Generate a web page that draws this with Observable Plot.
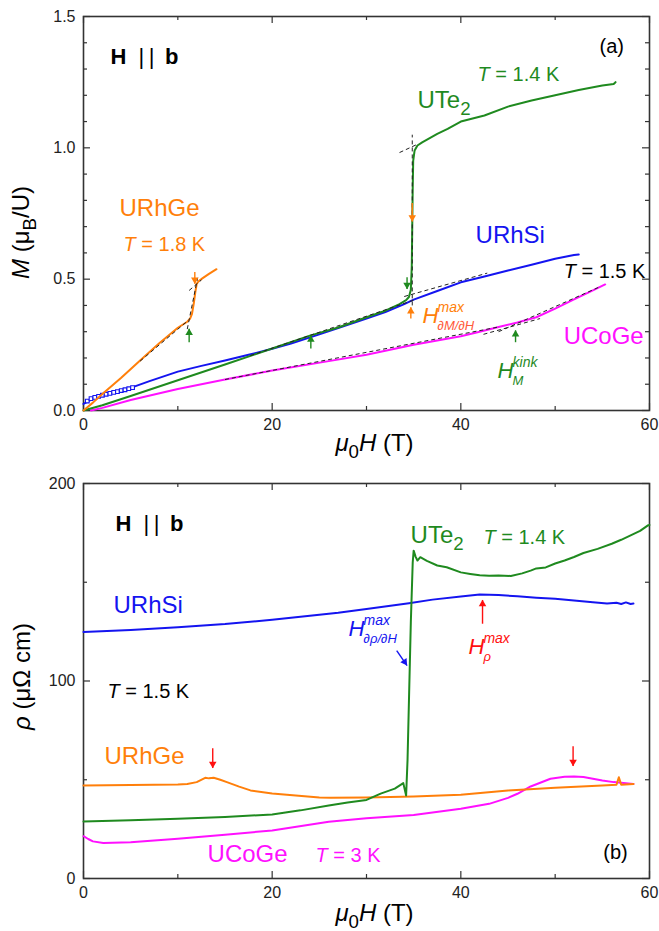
<!DOCTYPE html>
<html><head><meta charset="utf-8">
<script src="https://cdn.jsdelivr.net/npm/d3@7"></script>
<script src="https://cdn.jsdelivr.net/npm/@observablehq/plot@0.6"></script>
<style>
body{margin:0;background:#fff;}
#chart{width:659px;}
#chart svg{display:block;}
</style>
</head><body><div id="chart"></div>
<script>
// ---------- Data ----------
// Panel (a): magnetization M (μB/U) vs μ0H (T)
const mURhGe = [[0,0],[1,0.03],[2,0.063],[4,0.125],[6,0.19],[8,0.255],[10,0.315],[11,0.338],[11.3,0.35],[11.5,0.368],[11.7,0.41],[11.85,0.45],[12.0,0.482],[12.2,0.492],[12.6,0.503],[13.3,0.52],[14.1,0.538]];
const mURhSi = [[0,0.025],[0.5,0.035],[1,0.045],[2,0.058],[3,0.068],[4,0.077],[5,0.086],[7,0.112],[10,0.148],[12.5,0.17],[15,0.19],[17.5,0.212],[20,0.235],[22,0.255],[25,0.29],[27,0.314],[30,0.35],[32,0.375],[34,0.405],[35,0.422],[37.5,0.455],[40,0.488],[42.5,0.51],[45,0.533],[47.5,0.555],[50,0.578],[52,0.592],[52.5,0.594]];
const sqH = [0.4,0.8,1.2,1.6,2.0,2.4,2.8,3.2,3.6,4.0,4.4,4.8,5.2];
const sqM = [0.036,0.045,0.05,0.054,0.058,0.062,0.065,0.069,0.072,0.076,0.079,0.083,0.087];
const mUTe2 = [[0,0],[2,0.02],[5,0.055],[10,0.115],[15,0.175],[20,0.236],[24,0.285],[27,0.316],[30,0.355],[32,0.38],[33.5,0.405],[34.2,0.42],[34.5,0.432],[34.7,0.46],[34.8,0.55],[34.85,0.7],[34.9,0.85],[34.95,0.95],[35.1,0.99],[35.4,1.009],[35.9,1.021],[37.5,1.053],[38.6,1.072],[40,1.1],[42.5,1.123],[45,1.157],[47.5,1.18],[50,1.2],[52.5,1.22],[55,1.237],[56.2,1.243],[56.4,1.25]];
const mUCoGe = [[0.8,0],[2,0.01],[5,0.04],[10,0.082],[15,0.118],[20,0.152],[26,0.188],[30,0.212],[35,0.25],[40,0.283],[42,0.3],[44,0.318],[46,0.335],[48,0.355],[50,0.388],[52,0.423],[54,0.457],[55.3,0.48]];
// dashed linear fits: [H1, M1, H2, M2]
const fitsA = [[6.0,0.188,11.0,0.340],[11.0,0.31,12.1,0.505],[11.2,0.457,12.5,0.497],[34.85,0.40,34.85,1.05],[33.5,0.982,35.3,1.012],[17.7,0.209,35.0,0.42],[34.0,0.434,42.8,0.523],[15,0.118,44,0.318],[42.4,0.29,48.4,0.35],[44,0.30,54.8,0.472]];
// arrows: [H, from, to]
const arrowsGreenA = [[11.2,0.26,0.311],[24.1,0.236,0.285],[45.8,0.26,0.305],[34.3,0.507,0.463]];
const arrowsOrangeA = [[11.8,0.527,0.483],[34.85,0.79,0.72],[34.7,0.35,0.393]];

// Panel (b): resistivity ρ (μΩ cm) vs μ0H (T)
const rURhSi = [[0,124.8],[5,125.8],[10,127.2],[15,128.8],[20,131],[24,133],[27,134.5],[30,136.5],[34.5,139.4],[37,141.2],[40,142.8],[42,143.8],[44,143.5],[46,142.9],[48,142.2],[50,141.6],[52,140.8],[54,139.9],[55.5,139.3],[56.5,139.6],[57,139],[57.5,139.8],[58,139],[58.3,139.2]];
const rUTe2 = [[0,28.9],[5,29.5],[10,30.2],[15,31.2],[20,32.4],[23,34.5],[26,37],[28,38.5],[30,39.8],[31.5,43],[33,45.5],[33.9,48.3],[34.2,42],[34.35,60],[34.5,90],[34.7,130],[34.9,160],[35.0,166],[35.2,163],[35.4,161],[35.7,162.7],[36.4,160.8],[37.5,158.5],[38.5,157.6],[40,155],[41,154.2],[42,153.5],[43,153.3],[44,153.4],[45.3,153.2],[46.5,154.5],[47.4,155.9],[48,157],[49,157.5],[50,159.5],[51,161],[52,162.8],[53,164.8],[54.5,166.9],[56,169.5],[57,171.5],[58,173.7],[59,176],[59.8,178.7],[60,179]];
const rURhGe = [[0,47.1],[5,47.3],[10,47.6],[11,47.8],[12,48.8],[12.9,51],[13.3,50.7],[13.8,51],[14.5,50],[15.2,48.8],[16.5,46.5],[17.7,44.6],[20,43],[22.5,42],[25,41],[26.2,40.9],[30,41],[35,41.5],[40,42.4],[45,44.6],[50,45.9],[55,47.1],[56.5,47.5],[56.75,51.3],[57,47.5],[58.3,47.9]];
const rUCoGe = [[0,21.4],[0.5,20],[1,18.8],[2.1,18],[5,18.4],[10,20.1],[15,22.2],[20,24.3],[26,28.7],[30,30.5],[35,32.2],[40,35.3],[43,37.8],[45,40.8],[46,42.9],[47.4,46.6],[49.5,50.5],[51,51.5],[52,51.6],[53,51.4],[54,50.5],[55,49.6],[56.2,48.8],[57.5,48.2],[58.3,47.9]];
const arrowsRedDownB = [[13.7,66,56],[51.9,67,57]];
const arrowsRedUpB = [[42.3,129,141]];
const arrowBlueB = [[33.2,115.4,34.3,107.8]];

// Ticks
const xMajor = [0,20,40,60], xMinor = [10,30,50];
const yMajorA = [0,0.5,1,1.5], yMinorA = [0.1,0.2,0.3,0.4,0.6,0.7,0.8,0.9,1.1,1.2,1.3,1.4];
const yMajorB = [0,100,200], yMinorB = [50,150];

// Text
const xTitle = "<i>μ</i><sub>0</sub><i>H</i> (T)";
const yTitleA = "<i>M</i> (μ<sub>B</sub>/U)";
const yTitleB = "<i>ρ</i> (μΩ cm)";
const geomLabel = "<b>H</b>\u00a0\u00a0|\u2009|\u00a0\u2009<b>b</b>";
const namesA = [{x:35.4,y:1.153,t:"UTe<sub>2</sub>",s:"UTe2"},{x:3.82,y:0.742,t:"URhGe",s:"URhGe"},{x:41.56,y:0.636,t:"URhSi",s:"URhSi"},{x:50.9,y:0.255,t:"UCoGe",s:"UCoGe"}];
const tempsA = [{x:41.77,y:1.256,t:"<i>T</i> = 1.4 K",s:"UTe2"},{x:4.24,y:0.609,t:"<i>T</i> = 1.8 K",s:"URhGe"},{x:50.9,y:0.506,t:"<i>T</i> = 1.5 K",s:"black"},{x:54.7,y:1.36,t:"(a)",s:"black"}];
const headA = [{x:2.86,y:1.321,t:geomLabel}];
const hAnnA = [{x:35.94,y:0.335,sup:"max",sub:"∂M/∂H",s:"URhGe",ss:"hm"},{x:43.9,y:0.122,sup:"kink",sub:"M",s:"UTe2",ss:"UTe2"}];
const namesB = [{x:34.67,y:170.1,t:"UTe<sub>2</sub>",s:"UTe2"},{x:3.18,y:134.2,t:"URhSi",s:"URhSi"},{x:2.23,y:58.2,t:"URhGe",s:"URhGe"},{x:13.15,y:8.3,t:"UCoGe",s:"UCoGe"}];
const tempsB = [{x:42.4,y:169.6,t:"<i>T</i> = 1.4 K",s:"UTe2"},{x:2.54,y:91.6,t:"<i>T</i> = 1.5 K",s:"black"},{x:24.6,y:8.5,t:"<i>T</i> = 3 K",s:"UCoGe"},{x:55.1,y:10.1,t:"(b)",s:"black"}];
const headB = [{x:3.39,y:176.2,t:geomLabel}];
const hAnnB = [{x:28.1,y:123,sup:"max",sub:"∂ρ/∂H",s:"URhSi",ss:"URhSi"},{x:40.8,y:113.9,sup:"max",sub:"ρ",s:"red",ss:"red"}];

// ---------- Styling ----------
const C = {UTe2:"#1f8a1f", URhGe:"#ff7f0a", URhSi:"#1414f0", UCoGe:"#ff10ff", red:"#ff1010", black:"#000", hm:"#ff5a3a"};
const FONT = "'Liberation Sans', Arial, Helvetica, sans-serif";
const W = 659, ML = 83, MR = 10;
const innerW = W - ML - MR;

function frameAndTicks(innerH, yMaj, yMin, yFmt) {
  const s = {stroke:"#333", strokeWidth:1.2};
  return [
    Plot.ruleX(xMajor, {...s, insetTop: innerH - 7}),
    Plot.ruleX(xMajor, {...s, insetBottom: innerH - 7}),
    Plot.ruleX(xMinor, {...s, insetTop: innerH - 4}),
    Plot.ruleX(xMinor, {...s, insetBottom: innerH - 4}),
    Plot.ruleY(yMaj, {...s, insetRight: innerW - 7}),
    Plot.ruleY(yMaj, {...s, insetLeft: innerW - 7}),
    Plot.ruleY(yMin, {...s, insetRight: innerW - 4}),
    Plot.ruleY(yMin, {...s, insetLeft: innerW - 4}),
    Plot.frame({stroke:"#333", strokeWidth:1.6}),
    Plot.text(xMajor, {x:d=>d, text:d=>String(d), frameAnchor:"bottom", lineAnchor:"top", dy:8, fontSize:16, fill:"#222"}),
    Plot.text(yMaj, {y:d=>d, text:yFmt, frameAnchor:"left", textAnchor:"end", dx:-8, fontSize:16, fill:"#222"})
  ];
}
function line(data, color) {
  return Plot.line(data, {x:d=>d[0], y:d=>d[1], stroke:color, strokeWidth:2, strokeLinejoin:"round"});
}
function vArrows(data, color, up) {
  return [
    Plot.link(data, {x1:d=>d[0], x2:d=>d[0], y1:d=>d[1], y2:d=>d[2], stroke:color, strokeWidth:1.4}),
    Plot.dot(data, {x:d=>d[0], y:d=>d[2], symbol:"triangle", r:2.8, fill:color, stroke:"none", rotate: up ? 0 : 180, dy: up ? 4 : -4})
  ];
}
function labels(data, size, extra = {}) {
  return Plot.text(data, {x:"x", y:"y", text:"t", fill:d=>C[d.s] || "#000", fontSize:size, textAnchor:"start", lineAnchor:"bottom", ...extra});
}
function hAnn(data) {
  return [
    Plot.text(data, {x:"x", y:"y", text:()=>"H", fill:d=>C[d.s], fontSize:22, fontStyle:"italic", textAnchor:"start", lineAnchor:"bottom"}),
    Plot.text(data, {x:"x", y:"y", text:"sup", fill:d=>C[d.s], fontSize:14, fontStyle:"italic", textAnchor:"start", lineAnchor:"bottom", dx:15, dy:-11}),
    Plot.text(data, {x:"x", y:"y", text:"sub", fill:d=>C[d.ss], fontSize:13, fontStyle:"italic", textAnchor:"start", lineAnchor:"bottom", dx:15, dy:7})
  ];
}
const common = {width:W, marginLeft:ML, marginRight:MR, color:{type:"identity"},
  style:{fontFamily:FONT, fontSize:"16px", background:"white", overflow:"visible", color:"#222"}};

// ---------- Panel (a) ----------
const HA = 463, MTA = 16, MBA = 53, innerHA = HA - MTA - MBA;
const plotA = Plot.plot({
  ...common, height:HA, marginTop:MTA, marginBottom:MBA,
  x:{domain:[0,60], axis:null}, y:{domain:[0,1.5], axis:null},
  marks:[
    ...frameAndTicks(innerHA, yMajorA, yMinorA, d3.format(".1f")),
    line(mUCoGe, C.UCoGe),
    line(mURhSi, C.URhSi),
    Plot.dot(sqH, {x:d=>d, y:(d,i)=>sqM[i], symbol:"square", r:2.1, stroke:C.URhSi, fill:"white", strokeWidth:1.1}),
    line(mUTe2, C.UTe2),
    line(mURhGe, C.URhGe),
    Plot.link(fitsA, {x1:d=>d[0], y1:d=>d[1], x2:d=>d[2], y2:d=>d[3], stroke:"#222", strokeWidth:1, strokeDasharray:"4,3"}),
    ...vArrows(arrowsGreenA.slice(0,3), C.UTe2, true),
    ...vArrows(arrowsGreenA.slice(3), C.UTe2, false),
    ...vArrows(arrowsOrangeA.slice(0,2), C.URhGe, false),
    ...vArrows(arrowsOrangeA.slice(2), C.URhGe, true),
    labels(headA, 22),
    labels(namesA, 24),
    labels(tempsA, 20),
    ...hAnn(hAnnA),
    Plot.text([xTitle], {text:d=>d, frameAnchor:"bottom", lineAnchor:"bottom", dy:40, dx:8, fontSize:24, fill:"#000"}),
    Plot.text([yTitleA], {text:d=>d, frameAnchor:"left", rotate:-90, textAnchor:"start", lineAnchor:"bottom", dx:-55, dy:19, fontSize:24, fill:"#000"})
  ]
});

// ---------- Panel (b) ----------
const HB = 468, MTB = 20, MBB = 53, innerHB = HB - MTB - MBB;
const plotB = Plot.plot({
  ...common, height:HB, marginTop:MTB, marginBottom:MBB,
  x:{domain:[0,60], axis:null}, y:{domain:[0,200], axis:null},
  marks:[
    ...frameAndTicks(innerHB, yMajorB, yMinorB, d=>String(d)),
    line(rUCoGe, C.UCoGe),
    line(rURhGe, C.URhGe),
    line(rURhSi, C.URhSi),
    line(rUTe2, C.UTe2),
    ...vArrows(arrowsRedDownB, C.red, false),
    ...vArrows(arrowsRedUpB, C.red, true),
    Plot.link(arrowBlueB, {x1:d=>d[0], y1:d=>d[1], x2:d=>d[2], y2:d=>d[3], stroke:C.URhSi, strokeWidth:1.4}),
    Plot.dot(arrowBlueB, {x:d=>d[2], y:d=>d[3], symbol:"triangle", r:2.8, fill:C.URhSi, stroke:"none", rotate:146, dx:-2.4, dy:-3.6}),
    labels(headB, 22),
    labels(namesB, 24),
    labels(tempsB, 20),
    ...hAnn(hAnnB),
    Plot.text([xTitle], {text:d=>d, frameAnchor:"bottom", lineAnchor:"bottom", dy:42, dx:8, fontSize:24, fill:"#000"}),
    Plot.text([yTitleB], {text:d=>d, frameAnchor:"left", rotate:-90, textAnchor:"start", lineAnchor:"bottom", dx:-54, dy:-5, fontSize:24, fill:"#000"})
  ]
});

const root = document.getElementById("chart");
root.appendChild(plotA);
root.appendChild(plotB);

// ---------- rich text (italic, bold, sub/superscripts) ----------
function rich(str, fs) {
  const re = /<(i|b|sub|sup)>(.*?)<\/\1>|([^<]+)/g;
  let out = "", cur = 0, m;
  while ((m = re.exec(str))) {
    const tag = m[1] || "", txt = m[1] ? m[2] : m[3];
    let off = 0, size = null, style = "";
    if (tag === "sub") { off = 0.3 * fs; size = 0.78 * fs; }
    if (tag === "sup") { off = -0.42 * fs; size = 0.7 * fs; }
    if (tag === "i") style = ' font-style="italic"';
    if (tag === "b") style = ' font-weight="bold"';
    const dy = off - cur; cur = off;
    out += `<tspan dy="${dy.toFixed(2)}"${size ? ` font-size="${size.toFixed(1)}"` : ""}${style}>${txt}</tspan>`;
  }
  return out;
}
root.querySelectorAll("svg text").forEach(el => {
  const s = el.textContent;
  if (!s.includes("<")) return;
  const fs = parseFloat(getComputedStyle(el).fontSize) || 16;
  el.innerHTML = rich(s, fs);
  if (s === yTitleA || s === yTitleB) {
    // centre the rotated title on its anchor
    const w = el.getBBox().width;
    el.setAttribute("x", (-w / 2).toFixed(1));
  }
});
</script>
</body></html>
